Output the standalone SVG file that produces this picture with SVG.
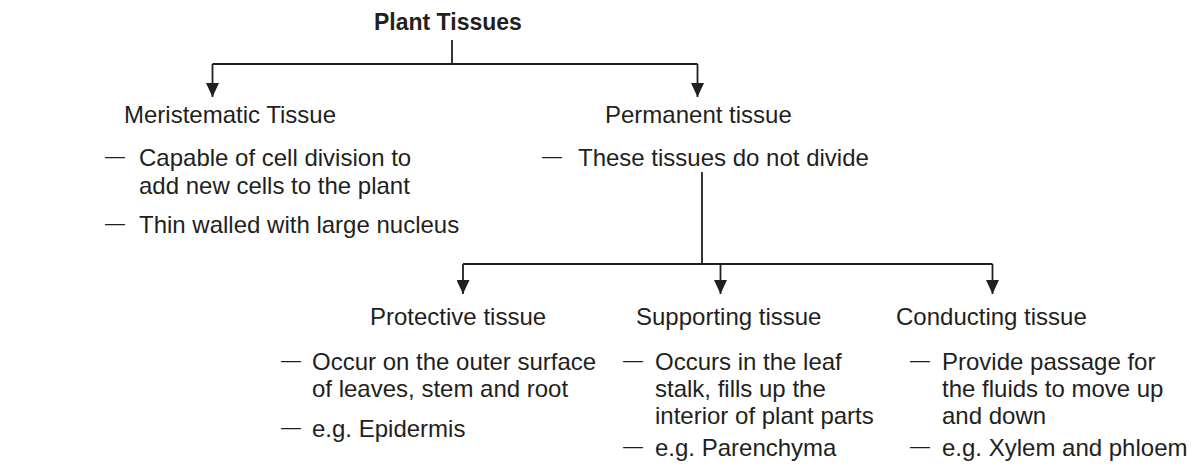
<svg xmlns="http://www.w3.org/2000/svg" width="1193" height="466" viewBox="0 0 1193 466">
<defs>
<style>
.t{font-family:"Liberation Sans",Arial,sans-serif;font-size:24px;fill:#231f20}
.b{font-family:"Liberation Sans",Arial,sans-serif;font-size:23px;font-weight:bold;fill:#231f20}
.d{font-family:"Liberation Sans",Arial,sans-serif;font-size:20px;fill:#231f20}
.c{fill:none;stroke:#231f20;stroke-width:1.8}
</style>
<marker id="dn" markerUnits="userSpaceOnUse" markerWidth="13" markerHeight="14" viewBox="0 0 13 14" refX="6.5" refY="14" orient="0">
<path d="M0,0 L13,0 L6.5,14 Z" fill="#231f20"/>
</marker>
</defs>
<g id="connectors">
<path class="c" d="M452,40 V64"/>
<path class="c" d="M212.5,64 H697.5"/>
<path class="c" d="M212.5,64 V97" marker-end="url(#dn)"/>
<path class="c" d="M697.5,64 V97" marker-end="url(#dn)"/>
<path class="c" d="M702,172 V264"/>
<path class="c" d="M463,264 H992.5"/>
<path class="c" d="M463,264 V294" marker-end="url(#dn)"/>
<path class="c" d="M720.5,264 V294" marker-end="url(#dn)"/>
<path class="c" d="M992.5,264 V294" marker-end="url(#dn)"/>
</g>
<g id="plant-tissues">
<text class="b" x="374" y="30">Plant Tissues</text>
</g>
<g id="meristematic">
<text class="t" x="124" y="123">Meristematic Tissue</text>
<text class="d" x="105" y="163">—</text>
<text class="t" x="139" y="166">Capable of cell division to</text>
<text class="t" x="139" y="194">add new cells to the plant</text>
<text class="d" x="105" y="230">—</text>
<text class="t" x="139" y="233">Thin walled with large nucleus</text>
</g>
<g id="permanent">
<text class="t" x="605" y="123">Permanent tissue</text>
<text class="d" x="542" y="163">—</text>
<text class="t" x="578" y="166">These tissues do not divide</text>
</g>
<g id="protective">
<text class="t" x="370" y="325">Protective tissue</text>
<text class="d" x="281" y="367">—</text>
<text class="t" x="312" y="370">Occur on the outer surface</text>
<text class="t" x="312" y="397">of leaves, stem and root</text>
<text class="d" x="281" y="434">—</text>
<text class="t" x="312" y="437">e.g. Epidermis</text>
</g>
<g id="supporting">
<text class="t" x="636" y="325">Supporting tissue</text>
<text class="d" x="623" y="367">—</text>
<text class="t" x="655" y="370">Occurs in the leaf</text>
<text class="t" x="655" y="397">stalk, fills up the</text>
<text class="t" x="655" y="424">interior of plant parts</text>
<text class="d" x="623" y="453">—</text>
<text class="t" x="655" y="456">e.g. Parenchyma</text>
</g>
<g id="conducting">
<text class="t" x="896" y="325">Conducting tissue</text>
<text class="d" x="910" y="367">—</text>
<text class="t" x="942" y="370">Provide passage for</text>
<text class="t" x="942" y="397">the fluids to move up</text>
<text class="t" x="942" y="424">and down</text>
<text class="d" x="910" y="453">—</text>
<text class="t" x="942" y="456">e.g. Xylem and phloem</text>
</g>
</svg>
